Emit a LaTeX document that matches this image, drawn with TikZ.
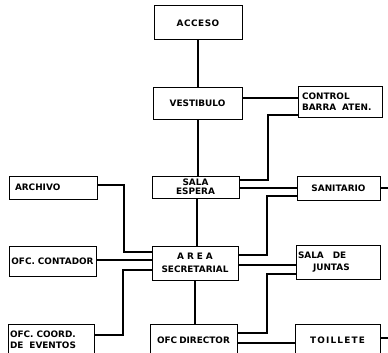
\documentclass[tikz,border=0pt]{standalone}
\usepackage{fontspec}
\setmainfont{DejaVu Sans}
\newcommand\gp{\hspace{0.5pt}}
\newcommand\gq{\hspace{1.2pt}}
\begin{document}
\begin{tikzpicture}[x=1pt,y=-1pt,
  box/.style n args={4}{draw, line width=1pt, minimum width=#1, minimum height=#2,
     inner ysep=1pt, inner xsep=#3, text width=#1-2*#3, align=#4,
     font=\fontsize{8.9}{10.5}\selectfont\bfseries},
  wire/.style={line width=1.8pt}]
\useasboundingbox (0,0) rectangle (388,353);
\clip (0,0) rectangle (388,353);
\node[box={88}{34}{2pt}{center}] (acceso) at (198,23) {A\gp C\gp C\gp E\gp S\gp O};
\node[box={89}{32}{2pt}{center}] (vest) at (197.5,103) {VESTIBULO};
\node[box={84}{31}{4pt}{left}] (control) at (340,101.5) {CONTROL\\BARRA\hspace{3pt} ATEN.};
\node[box={87}{22}{2pt}{center}] (sala) at (195.5,187) {SALA\\[-1.5pt]ESPERA};
\node[box={88}{23}{6pt}{left}] (archivo) at (53,187.5) {ARCHIVO};
\node[box={83}{24}{2pt}{center}] (sanit) at (338.5,188) {SANITARIO};
\node[box={86}{34}{1pt}{center}] (area) at (195,263) {A\hspace{3pt}R\hspace{3pt}E\hspace{3pt}A\\[2pt]SECRETARIAL};
\node[box={87}{30}{0.5pt}{center}] (contador) at (52.5,261) {OFC. CONTADOR};
\node[box={84}{34}{2pt}{left}] (juntas) at (338,262) {SALA\hspace{9pt}DE\\[2pt]\hspace{15pt}JUNTAS};
\node[box={86}{32}{2pt}{left}] (coord) at (51,340) {OFC. COORD.\\DE\hspace{3pt} EVENTOS};
\node[box={87}{32}{0.5pt}{center}] (director) at (193.5,340) {OFC\hspace{2pt}DIRECTOR};
\node[box={85}{32}{2pt}{center}] (toillete) at (337.5,340) {T\gq O\gq I\gq L\gq L\gq E\gq T\gq E};
\coordinate (e1) at (388,188);
\coordinate (e2) at (388,338);
% verticals
\draw[wire] (acceso.south -| 198,0) -- (vest.north -| 198,0);
\draw[wire] (vest.south -| 198,0) -- (sala.north -| 198,0);
\draw[wire] (sala.south -| 197,0) -- (area.north -| 197,0);
\draw[wire] (area.south -| 195,0) -- (director.north -| 195,0);
% right side
\draw[wire] (vest.east |- 0,98) -- (control.west |- 0,98);
\draw[wire] (sala.east |- 0,180) -- (268,180) -- (268,115) -- (control.west |- 0,115);
\draw[wire] (sala.east |- 0,188) -- (sanit.west |- 0,188);
\draw[wire] (area.east |- 0,255) -- (267,255) -- (267,196) -- (sanit.west |- 0,196);
\draw[wire] (area.east |- 0,265) -- (juntas.west |- 0,265);
\draw[wire] (director.east |- 0,333) -- (267,333) -- (267,274) -- (juntas.west |- 0,274);
\draw[wire] (director.east |- 0,343) -- (toillete.west |- 0,343);
\draw[wire] (sanit.east |- e1) -- (e1);
\draw[wire] (toillete.east |- e2) -- (e2);
% left side
\draw[wire] (archivo.east |- 0,185) -- (124,185) -- (124,252) -- (area.west |- 0,252);
\draw[wire] (contador.east |- 0,260) -- (area.west |- 0,260);
\draw[wire] (area.west |- 0,270) -- (123,270) -- (123,335) -- (coord.east |- 0,335);
\end{tikzpicture}
\end{document}
